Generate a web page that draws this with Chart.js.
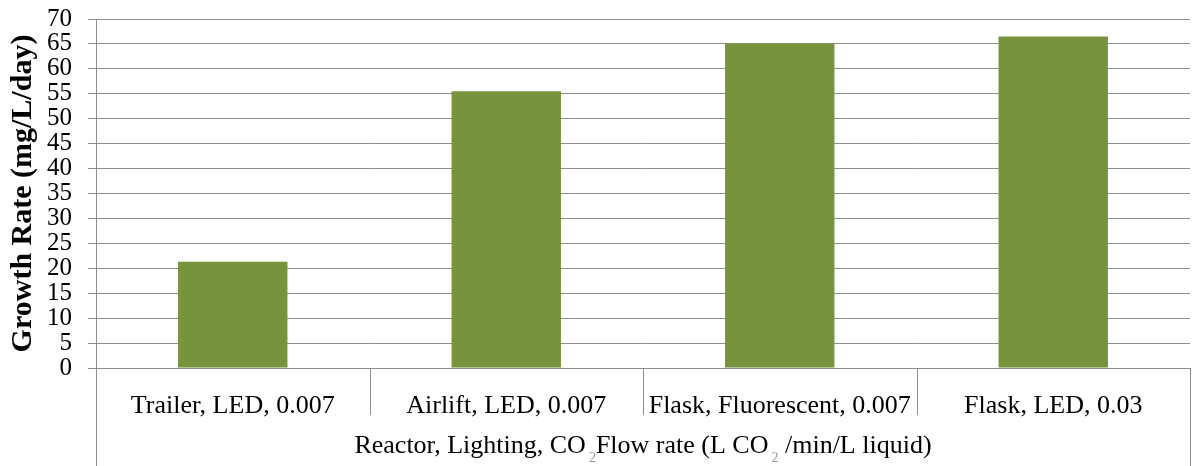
<!DOCTYPE html>
<html lang="en">
<head>
    <meta charset="UTF-8">
    <title>Growth Rate</title>
    <style>
        html, body { margin: 0; padding: 0; background: #fff; }
        #wrap { width: 1196px; height: 466px; }
    </style>
    <script src="https://cdn.jsdelivr.net/npm/chart.js"></script>
</head>
<body>
    <div id="wrap"><canvas id="growthChart" width="1196" height="466"></canvas></div>

    <script>
        // data
        const categories = [
            "Trailer, LED, 0.007",
            "Airlift, LED, 0.007",
            "Flask, Fluorescent, 0.007",
            "Flask, LED, 0.03"
        ];
        const growthRates = [21.3, 55.5, 65.1, 66.5];
        const yTicks = [0, 5, 10, 15, 20, 25, 30, 35, 40, 45, 50, 55, 60, 65, 70];
        const yTitle = "Growth Rate (mg/L/day)";
        // x title pieces: [text, isSubscript]
        const xTitleParts = [
            ["Reactor, Lighting, CO", false],
            ["2", true],
            ["Flow rate (L CO", false],
            ["2", true],
            [" /min/L liquid)", false]
        ];

        const serif = "'Liberation Serif', 'Times New Roman', serif";
        const gridGray = "#8e8e8e";

        // category dividers below the axis + x axis title with subscripts
        const categoryAxisPlugin = {
            id: 'categoryAxis',
            afterDraw(chart) {
                const ctx = chart.ctx;
                const x = chart.scales.x;
                const area = chart.chartArea;
                const half = (x.getPixelForValue(1) - x.getPixelForValue(0)) / 2;
                ctx.save();
                ctx.strokeStyle = gridGray;
                ctx.lineWidth = 1;
                categories.forEach((c, i) => {
                    const px = Math.round(x.getPixelForValue(i) - half) + 0.5;
                    const bottom = i === 0 ? chart.height : area.bottom + 47;
                    ctx.beginPath();
                    ctx.moveTo(px, area.bottom);
                    ctx.lineTo(px, bottom);
                    ctx.stroke();
                });
                const last = Math.round(x.getPixelForValue(categories.length - 1) + half) + 0.5;
                ctx.beginPath();
                ctx.moveTo(last, area.bottom);
                ctx.lineTo(last, chart.height);
                ctx.stroke();

                // title
                const mainFont = "26px " + serif;
                const subFont = "14px " + serif;
                const gap = 3;
                let total = 0;
                xTitleParts.forEach(([t, sub]) => {
                    ctx.font = sub ? subFont : mainFont;
                    total += ctx.measureText(t).width + (sub ? gap : 0);
                });
                let cx = (area.left + area.right) / 2 - total / 2;
                const base = 453;
                ctx.textBaseline = 'alphabetic';
                ctx.textAlign = 'left';
                xTitleParts.forEach(([t, sub]) => {
                    if (sub) {
                        ctx.font = subFont;
                        ctx.fillStyle = '#9a9a9a';
                        ctx.fillText(t, cx + gap, base + 9);
                        cx += ctx.measureText(t).width + gap;
                    } else {
                        ctx.font = mainFont;
                        ctx.fillStyle = '#000';
                        ctx.fillText(t, cx, base);
                        cx += ctx.measureText(t).width;
                    }
                });
                ctx.restore();
            }
        };

        new Chart(document.getElementById('growthChart'), {
            type: 'bar',
            data: {
                labels: categories,
                datasets: [{
                    label: 'Growth Rate',
                    data: growthRates,
                    backgroundColor: '#77933C',
                    borderWidth: 0,
                    barPercentage: 0.4,
                    categoryPercentage: 1.0
                }]
            },
            options: {
                responsive: false,
                animation: false,
                layout: { padding: { top: 19, right: 6, left: 0, bottom: 0 } },
                plugins: {
                    legend: { display: false },
                    tooltip: { enabled: false }
                },
                scales: {
                    x: {
                        grid: { display: false },
                        border: { display: true, color: gridGray },
                        ticks: {
                            color: '#000',
                            font: { family: serif, size: 26 },
                            padding: 15,
                            maxRotation: 0,
                            autoSkip: false
                        },
                        afterFit(scale) {
                            scale.height = 98;
                            scale.paddingLeft = 0;
                            scale.paddingRight = 0;
                        }
                    },
                    y: {
                        min: 0,
                        max: 70,
                        afterBuildTicks(scale) {
                            scale.ticks = yTicks.map(v => ({ value: v }));
                        },
                        grid: { color: gridGray, lineWidth: 1, tickLength: 8 },
                        border: { display: true, color: gridGray },
                        ticks: {
                            color: '#000',
                            font: { family: serif, size: 25, lineHeight: 1 },
                            padding: 16,
                            autoSkip: false
                        },
                        title: {
                            display: true,
                            text: yTitle,
                            color: '#000',
                            font: { family: serif, size: 30, weight: 'bold' },
                            padding: { top: 5, bottom: 0 }
                        },
                        afterFit(scale) {
                            scale.width = 96;
                            scale.paddingTop = 0;
                            scale.paddingBottom = 0;
                        }
                    }
                }
            },
            plugins: [categoryAxisPlugin]
        });
    </script>
</body>
</html>
